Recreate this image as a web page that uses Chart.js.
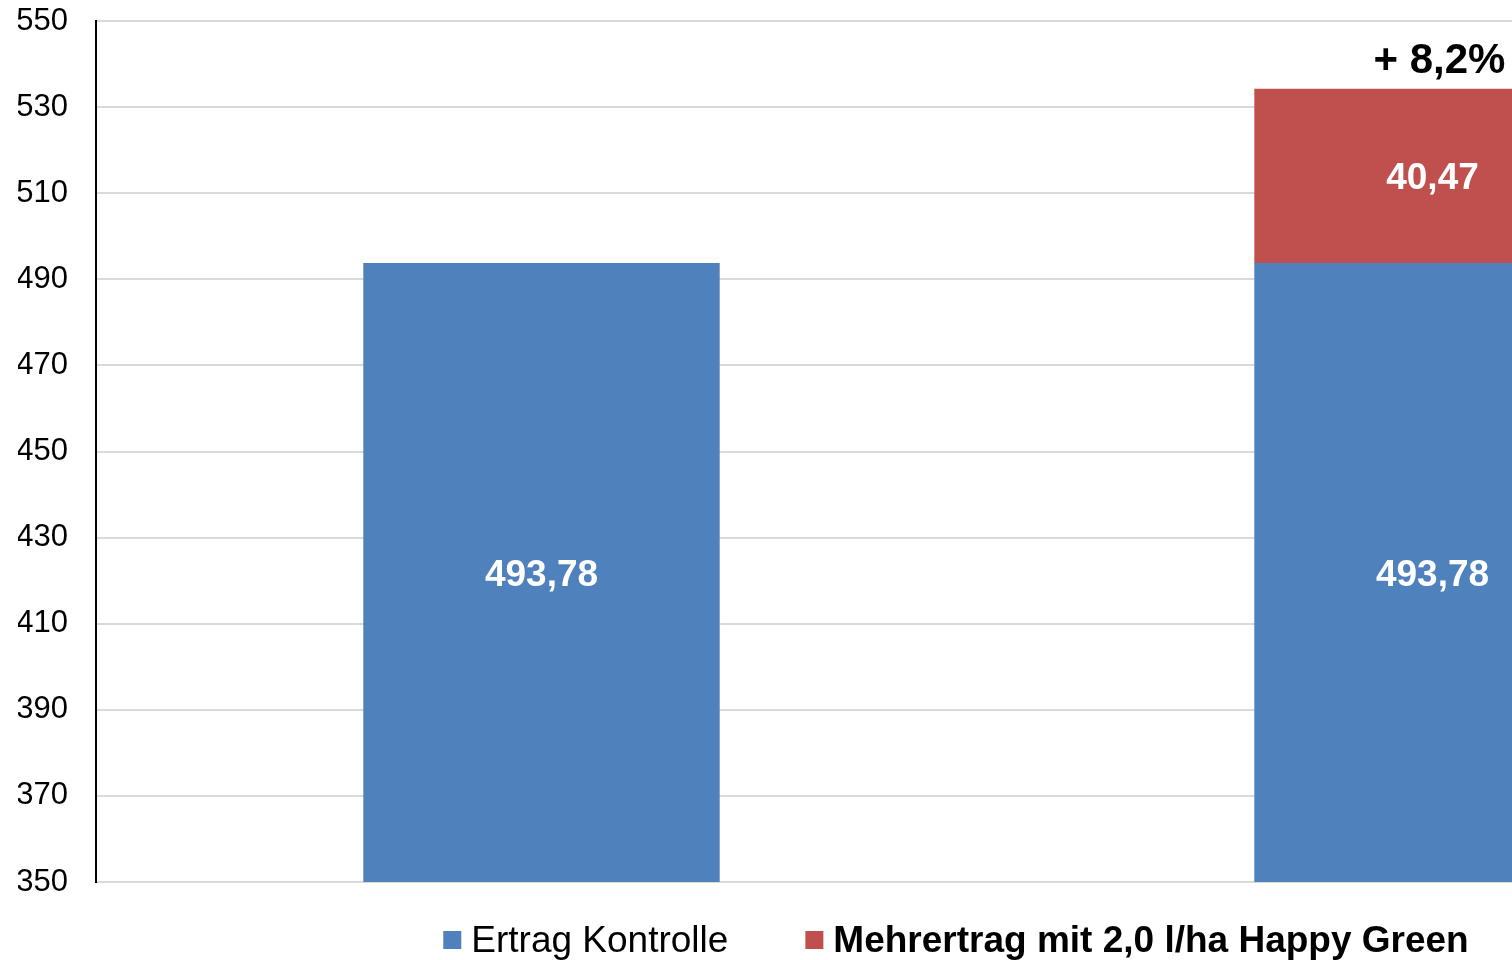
<!DOCTYPE html>
<html>
<head>
<meta charset="utf-8">
<script src="https://cdn.jsdelivr.net/npm/chart.js@4/dist/chart.umd.min.js"></script>
<style>
  html, body { margin: 0; padding: 0; background: #fff; overflow: hidden; }
  #wrap { width: 1912px; height: 960px; }
</style>
</head>
<body>
<div id="wrap"><canvas id="ertragChart"></canvas></div>
<script>
const categories = ["Kontrolle", "Happy Green"];
const ertragKontrolle = [493.78, 493.78];
const mehrertrag = [null, 40.47];
const seriesNames = ["Ertrag Kontrolle", "Mehrertrag mit 2,0 l/ha Happy Green"];
const steigerung = "+ 8,2%";
const yMin = 350, yMax = 550, yStep = 20;

const fmt = v => v.toFixed(2).replace(".", ",");

// white values inside the bar segments
const barLabels = {
    id: "barLabels",
    afterDatasetsDraw(chart) {
        const ctx = chart.ctx;
        const bottom = chart.chartArea.bottom;
        ctx.save();
        ctx.font = "bold 37px 'Liberation Sans', Arial, sans-serif";
        ctx.fillStyle = "#ffffff";
        ctx.textAlign = "center";
        ctx.textBaseline = "middle";
        chart.data.datasets.forEach((ds, i) => {
            chart.getDatasetMeta(i).data.forEach((bar, j) => {
                if (ds.data[j] == null) return;
                const base = Math.min(bar.base, bottom);
                ctx.fillText(fmt(ds.data[j]), bar.x, (bar.y + base) / 2 + 3);
            });
        });
        // percent increase over the stacked bar
        const top = chart.getDatasetMeta(1).data[1];
        ctx.font = "bold 42px 'Liberation Sans', Arial, sans-serif";
        ctx.fillStyle = "#000000";
        ctx.textBaseline = "alphabetic";
        ctx.fillText(steigerung, top.x + 7, top.y - 16);
        ctx.restore();
    }
};

// legend: first entry normal, second bold
const ownLegend = {
    id: "ownLegend",
    afterDraw(chart) {
        const ctx = chart.ctx;
        const fonts = ["37px 'Liberation Sans', Arial, sans-serif", "bold 37px 'Liberation Sans', Arial, sans-serif"];
        const box = 18, gapText = 10, gapItem = 77;
        ctx.save();
        const widths = chart.data.datasets.map((ds, i) => {
            ctx.font = fonts[i];
            return ctx.measureText(ds.label).width;
        });
        let total = 0;
        widths.forEach((w, i) => { total += box + gapText + w + (i ? gapItem : 0); });
        let x = chart.width / 2 - total / 2;
        const baseline = chart.height - 8;
        chart.data.datasets.forEach((ds, i) => {
            ctx.fillStyle = ds.backgroundColor;
            ctx.fillRect(x, baseline - 21, box, box);
            x += box + gapText;
            ctx.font = fonts[i];
            ctx.fillStyle = "#000000";
            ctx.textBaseline = "alphabetic";
            ctx.textAlign = "left";
            ctx.fillText(ds.label, x, baseline);
            x += widths[i] + gapItem;
        });
        ctx.restore();
    }
};

new Chart(document.getElementById("ertragChart"), {
    type: "bar",
    data: {
        labels: categories,
        datasets: [{
            label: seriesNames[0],
            data: ertragKontrolle,
            backgroundColor: "#4F81BD"
        }, {
            label: seriesNames[1],
            data: mehrertrag,
            backgroundColor: "#C0504D"
        }]
    },
    options: {
        responsive: true,
        maintainAspectRatio: false,
        animation: false,
        layout: { padding: { left: 18, top: 21, right: 34, bottom: 78 } },
        datasets: { bar: { categoryPercentage: 0.8, barPercentage: 0.5 } },
        plugins: {
            legend: { display: false },
            tooltip: { enabled: false }
        },
        scales: {
            x: { stacked: true, display: false },
            y: {
                stacked: true,
                min: yMin,
                max: yMax,
                afterFit(scale) {
                    scale.width = 78;
                    scale.paddingTop = 0;
                    scale.paddingBottom = 0;
                },
                ticks: {
                    stepSize: yStep,
                    padding: 28,
                    color: "#000000",
                    font: { family: "'Liberation Sans', Arial, sans-serif", size: 31 }
                },
                grid: { color: "#d9d9d9", lineWidth: 2, drawTicks: false },
                border: { color: "#000000", width: 2 }
            }
        }
    },
    plugins: [barLabels, ownLegend]
});
</script>
</body>
</html>
